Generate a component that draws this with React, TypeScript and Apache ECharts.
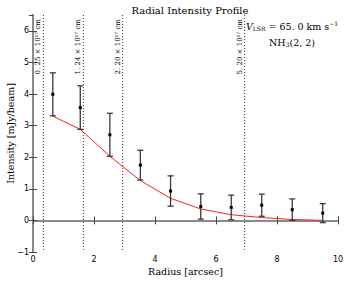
import React, { useEffect, useRef } from "react";
import * as echarts from "echarts";

const radius = [0.65, 1.55, 2.52, 3.52, 4.51, 5.5, 6.5, 7.5, 8.5, 9.5];
const intensity = [3.99, 3.57, 2.71, 1.75, 0.93, 0.44, 0.41, 0.48, 0.34, 0.23];
const errors = [0.68, 0.69, 0.68, 0.47, 0.48, 0.4, 0.39, 0.35, 0.34, 0.3];
const model = [3.3, 2.88, 2.03, 1.26, 0.7, 0.36, 0.18, 0.09, 0.03, 0.0];

const markerRadius = [0.34, 1.65, 2.94, 6.94];
const markerLabels = ["0. 25", "1. 24", "2. 20", "5. 20"];

const xTicks = { min: 0, max: 10, interval: 2 };
const yTicks = { min: -1, max: 6.5, interval: 1 };

const SERIF = "'DejaVu Serif', serif";
const SANS = "'DejaVu Sans', sans-serif";

export default function App() {
  const ref = useRef<HTMLDivElement>(null);
  useEffect(() => {
    if (!ref.current) return;
    const chart = echarts.init(ref.current, undefined, { renderer: "svg" });
    const fmt = (v: number) => (v < 0 ? "\u2212" + Math.abs(v) : String(v));
    const axisLine = { show: true, lineStyle: { color: "#8a8a8a", width: 2 } };
    const axisTick = { show: true, inside: true, length: 4, lineStyle: { color: "#444", width: 1 } };
    const tickLabel = { fontFamily: SANS, fontSize: 8, color: "#000" };
    const option: any = {
      animation: false,
      title: {
        text: "Radial Intensity Profile",
        left: 185,
        top: 0,
        textAlign: "center",
        textStyle: { fontFamily: SERIF, fontSize: 10, fontWeight: "normal", color: "#000" },
      },
      grid: { left: 33, right: 10, top: 15, bottom: 29, outerBoundsMode: "none", containLabel: false },
      xAxis: [
        {
          type: "value",
          position: "bottom",
          min: xTicks.min,
          max: xTicks.max,
          interval: xTicks.interval,
          axisLine,
          axisTick,
          splitLine: { show: false },
          axisLabel: { ...tickLabel, margin: 3, formatter: fmt },
          name: "Radius [arcsec]",
          nameLocation: "middle",
          nameGap: 14,
          nameMoveOverlap: false,
          nameTextStyle: { fontFamily: SERIF, fontSize: 9.5, color: "#000" },
        },
        {
          type: "value",
          position: "top",
          min: xTicks.min,
          max: xTicks.max,
          interval: xTicks.interval,
          axisLine,
          axisTick,
          splitLine: { show: false },
          axisLabel: { show: false },
        },
      ],
      yAxis: [
        {
          type: "value",
          position: "left",
          min: yTicks.min,
          max: yTicks.max,
          interval: yTicks.interval,
          axisLine,
          axisTick,
          splitLine: { show: false },
          axisLabel: { ...tickLabel, margin: 4, showMaxLabel: false, formatter: fmt },
          name: "Intensity [mJy/beam]",
          nameLocation: "middle",
          nameGap: 18,
          nameMoveOverlap: false,
          nameRotate: 90,
          nameTextStyle: { fontFamily: SERIF, fontSize: 9.5, color: "#000" },
        },
        {
          type: "value",
          position: "right",
          min: yTicks.min,
          max: yTicks.max,
          interval: yTicks.interval,
          axisLine,
          axisTick,
          splitLine: { show: false },
          axisLabel: { show: false },
        },
      ],
      series: [
        {
          type: "custom",
          xAxisIndex: 0,
          yAxisIndex: 0,
          data: markerRadius.map((r, i) => [r, i]),
          renderItem: (params: any, api: any) => {
            const r = api.value(0);
            const top = api.coord([r, yTicks.max]);
            const bot = api.coord([r, yTicks.min]);
            const lbl = markerLabels[params.dataIndex];
            return {
              type: "group",
              children: [
                {
                  type: "line",
                  shape: { x1: top[0], y1: top[1], x2: bot[0], y2: bot[1] },
                  style: { stroke: "#000", lineWidth: 0.8, lineDash: [1, 2] },
                },
                {
                  type: "text",
                  x: top[0] - 1.5,
                  y: top[1] + 4,
                  rotation: Math.PI / 2,
                  style: {
                    text: lbl + " \u00d7 10\u00b9\u2077 cm",
                    fontFamily: SERIF,
                    fontSize: 7,
                    fill: "#000",
                    align: "right",
                    verticalAlign: "bottom",
                  },
                },
              ],
            };
          },
          z: 1,
        },
        {
          type: "line",
          data: radius.map((r, i) => [r, model[i]]),
          showSymbol: false,
          symbol: "none",
          lineStyle: { color: "#ff2020", width: 1 },
          z: 2,
        },
        {
          type: "custom",
          data: radius.map((r, i) => [r, intensity[i], errors[i]]),
          renderItem: (params: any, api: any) => {
            const x = api.value(0);
            const y = api.value(1);
            const e = api.value(2);
            const t = api.coord([x, y + e]);
            const b = api.coord([x, y - e]);
            const c = api.coord([x, y]);
            const cw = 3;
            const st = { stroke: "#3a3a3a", lineWidth: 1.3 };
            return {
              type: "group",
              children: [
                { type: "line", shape: { x1: t[0], y1: t[1], x2: b[0], y2: b[1] }, style: st },
                { type: "line", shape: { x1: t[0] - cw, y1: t[1], x2: t[0] + cw, y2: t[1] }, style: st },
                { type: "line", shape: { x1: b[0] - cw, y1: b[1], x2: b[0] + cw, y2: b[1] }, style: st },
                { type: "rect", shape: { x: c[0] - 1.5, y: c[1] - 1.5, width: 3, height: 3 }, style: { fill: "#000" } },
              ],
            };
          },
          z: 3,
        },
      ],
      graphic: [
        {
          type: "text",
          x: 292,
          y: 26,
          style: {
            text: "{i|V}{sub|LSR}{n| = 65. 0 km s}{sup|\u22121}",
            align: "center",
            verticalAlign: "middle",
            rich: {
              i: { fontFamily: SERIF, fontStyle: "italic", fontSize: 9.5, fill: "#000" },
              sub: { fontFamily: SERIF, fontSize: 6, fill: "#000", padding: [4, 0, 0, 0] },
              n: { fontFamily: SERIF, fontSize: 9.5, fill: "#000" },
              sup: { fontFamily: SERIF, fontSize: 6, fill: "#000", padding: [0, 0, 5, 0] },
            },
          },
        },
        {
          type: "text",
          x: 292,
          y: 42,
          style: {
            text: "{n|NH}{sub|3}{n|(2, 2)}",
            align: "center",
            verticalAlign: "middle",
            rich: {
              n: { fontFamily: SERIF, fontSize: 9.5, fill: "#000" },
              sub: { fontFamily: SERIF, fontSize: 6, fill: "#000", padding: [4, 0, 0, 0] },
            },
          },
        },
      ],
    };
    chart.setOption(option);
    return () => chart.dispose();
  }, []);
  return <div ref={ref} style={{ position: "absolute", left: 0, top: 0, width: 348, height: 281 }} />;
}
